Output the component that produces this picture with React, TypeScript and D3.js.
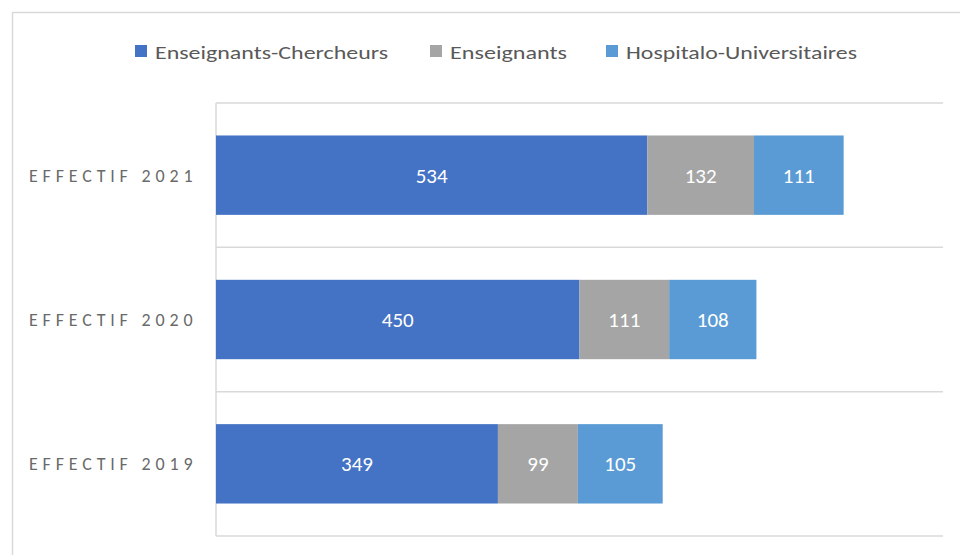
import React from 'react';
import * as d3 from 'd3';

// values
const years = ['EFFECTIF 2021', 'EFFECTIF 2020', 'EFFECTIF 2019'];
const seriesNames = ['Enseignants-Chercheurs', 'Enseignants', 'Hospitalo-Universitaires'];
const chercheurs = [534, 450, 349];
const enseignants = [132, 111, 99];
const hospitalo = [111, 108, 105];
const seriesColors = ['#4472C4', '#A5A5A5', '#5B9BD5'];

const width = 960;
const height = 555;
const font = "Carlito, Calibri, 'Open Sans', sans-serif";

export default function App() {
  const x = d3.scaleLinear().domain([0, 900]).range([216, 943]);
  const y = d3.scaleBand<string>()
    .domain(years)
    .range([103, 536])
    .paddingInner(0.45)
    .paddingOuter(0.225);

  const rows = years.map((year, i) => ({
    year,
    'Enseignants-Chercheurs': chercheurs[i],
    'Enseignants': enseignants[i],
    'Hospitalo-Universitaires': hospitalo[i],
  }));
  const stacked = d3.stack<any>().keys(seriesNames)(rows);

  // category separators, one per band edge
  const step = y.step();
  const start = y.range()[0];
  const separators = d3.range(years.length + 1).map(i => start + i * step);

  // legend layout (item start x, text width)
  const legendItems = [
    { x: 135, w: 233 },
    { x: 430, w: 117 },
    { x: 606, w: 231 },
  ];

  return (
    <svg width={width} height={height}
      style={{ position: 'absolute', left: 0, top: 0, display: 'block', background: '#fff' }}>
      <rect x={12.5} y={12.5} width={980} height={580} fill="#fff" stroke="#d9d9d9" strokeWidth={1.5} />

      {/* legend */}
      {seriesNames.map((name, i) => (
        <g key={name}>
          <rect x={legendItems[i].x} y={45} width={12} height={12} fill={seriesColors[i]} />
          <text x={legendItems[i].x + 20} y={59} fontFamily={font} fontSize={19} fill="#595959"
            textLength={legendItems[i].w} lengthAdjust="spacingAndGlyphs">{name}</text>
        </g>
      ))}

      {/* gridlines between categories */}
      {separators.map((sy, i) => (
        <line key={i} x1={x(0)} x2={x(900)} y1={sy} y2={sy} stroke="#d9d9d9" strokeWidth={1.5} />
      ))}
      <line x1={x(0)} x2={x(0)} y1={start} y2={separators[separators.length - 1]} stroke="#d9d9d9" strokeWidth={1.5} />

      {/* bars */}
      {stacked.map((layer, si) => (
        <g key={layer.key} fill={seriesColors[si]}>
          {layer.map((d, i) => (
            <rect key={i} x={x(d[0])} y={y(years[i])} width={x(d[1]) - x(d[0])} height={y.bandwidth()} />
          ))}
        </g>
      ))}

      {/* data labels */}
      {stacked.map(layer => (
        <g key={layer.key + '-lbl'}>
          {layer.map((d, i) => (
            <text key={i} x={(x(d[0]) + x(d[1])) / 2} y={(y(years[i]) as number) + y.bandwidth() / 2}
              dy="0.36em" textAnchor="middle" fontFamily={font} fontSize={21} fill="#fff">
              {d[1] - d[0]}
            </text>
          ))}
        </g>
      ))}

      {/* category labels */}
      {years.map(year => (
        <text key={year} x={29} y={(y(year) as number) + y.bandwidth() / 2} dy="0.36em"
          fontFamily={font} fontSize={18} fill="#6a6a6a" letterSpacing={2.5}
          textLength={166} lengthAdjust="spacing">{year}</text>
      ))}
    </svg>
  );
}
